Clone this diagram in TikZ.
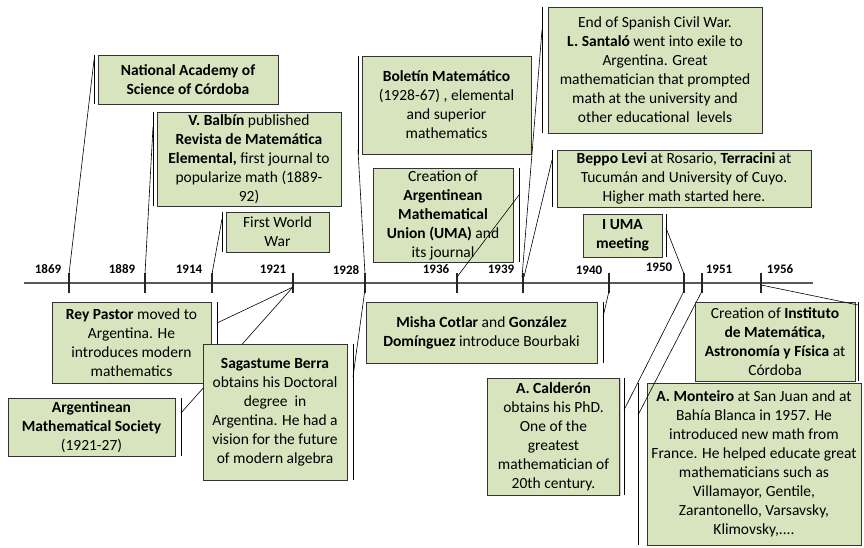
\documentclass[tikz,border=0pt]{standalone}
\usepackage{fontspec}
\setmainfont{Carlito}
\usetikzlibrary{shadows}
\definecolor{boxgreen}{HTML}{D7E4BD}
\definecolor{linegray}{HTML}{595959}
\begin{document}
\begin{tikzpicture}[x=1pt,y=-1pt,
  callout/.style={draw=black!80, fill=boxgreen, line width=0.8pt, align=center, inner sep=1pt,
    font=\fontsize{15.5}{19}\selectfont,
    drop shadow={shadow xshift=1.2pt, shadow yshift=-1.2pt, opacity=0.35, fill=black!60}},
  accentbar/.style={line width=0.8pt, draw=black},
  leader/.style={line width=0.6pt, draw=black},
  tickmark/.style={line width=1.8pt, draw=black!85},
  yearlbl/.style={font=\fontsize{13}{15}\selectfont\bfseries, inner sep=0pt},
]
\useasboundingbox (0,0) rectangle (864,548);

% timeline
\coordinate (tlS) at (24,283);
\coordinate (tlE) at (813,283);
\draw[line width=2.6pt, linegray] (tlS) -- (tlE);

\foreach \x/\n in {69/1869,145/1889,212/1914,293/1921,365/1928,457/1936,523/1939,609/1940,684/1950,702/1951,761/1956}{
  \coordinate (top\n) at (\x,273);
  \coordinate (bot\n) at (\x,293);
  \draw[tickmark] (top\n) -- (bot\n);
}

\node[yearlbl] (y1869) at (48,269) {1869};
\node[yearlbl] (y1889) at (122,269) {1889};
\node[yearlbl] (y1914) at (189,269) {1914};
\node[yearlbl] (y1921) at (273,269) {1921};
\node[yearlbl] (y1928) at (346,270) {1928};
\node[yearlbl] (y1936) at (436,269) {1936};
\node[yearlbl] (y1939) at (501,269) {1939};
\node[yearlbl] (y1940) at (589,270) {1940};
\node[yearlbl] (y1950) at (659,267) {1950};
\node[yearlbl] (y1951) at (719,269) {1951};
\node[yearlbl] (y1956) at (780,269) {1956};

% leader end points on the timeline
\coordinate (e1869) at (69,274);
\coordinate (e1889) at (145,274);
\coordinate (e1914) at (212,274);
\coordinate (e1928u) at (365,274);
\coordinate (e1936) at (457,277);
\coordinate (e1939a) at (522,277);
\coordinate (e1939b) at (524,277);
\coordinate (e1950u) at (684,274);
\coordinate (e1921d) at (293,287);
\coordinate (e1928d) at (365,289);
\coordinate (e1940d) at (609,291);
\coordinate (e1950d) at (684,291);
\coordinate (e1951d) at (702,291);
\coordinate (e1956d) at (761,285);

% ---------- upper callouts ----------
\node[callout, minimum width=180, minimum height=49] (nas) at (188,79.5)
  {\textbf{National Academy of}\\\textbf{Science of Córdoba}};
\draw[accentbar] (94,55) -- (94,104);
\coordinate (nasL) at (94,60);
\draw[leader] (nasL) -- (e1869);

\node[callout, minimum width=184, minimum height=94] (balbin) at (249,159)
  {\textbf{V. Balbín} published\\\textbf{Revista de Matemática}\\\textbf{Elemental,} first journal to\\popularize math (1889-\\92)};
\draw[accentbar] (153,112) -- (153,206);
\coordinate (balbinL) at (153,127);
\draw[leader] (balbinL) -- (e1889);

\node[callout, minimum width=103, minimum height=40] (ww1) at (277.5,232)
  {First World\\War};
\draw[accentbar] (222,212) -- (222,252);
\coordinate (ww1L) at (222,219);
\draw[leader] (ww1L) -- (e1914);

\node[callout, minimum width=169, minimum height=98] (boletin) at (446.5,105)
  {\textbf{Boletín Matemático}\\(1928-67) , elemental\\and superior\\mathematics};
\draw[accentbar] (358,56) -- (358,154);
\coordinate (boletinL) at (358,150);
\draw[leader] (boletinL) -- (e1928u);

\node[callout, minimum width=140, minimum height=94] (uma) at (443,215)
  {Creation of\\\textbf{Argentinean}\\\textbf{Mathematical}\\\textbf{Union (UMA)} and\\its journal};
\draw[accentbar] (519,168) -- (519,262);
\coordinate (umaL) at (519,195);
\draw[leader] (umaL) -- (e1936);

\node[callout, minimum width=214, minimum height=126] (santalo) at (655,70)
  {End of Spanish Civil War.\\\textbf{L. Santaló} went into exile to\\Argentina. Great\\mathematician that prompted\\math at the university and\\other educational~ levels};
\draw[accentbar] (542,7) -- (542,133);
\coordinate (santaloL) at (542,30);
\draw[leader] (santaloL) -- (e1939a);

\node[callout, minimum width=254, minimum height=57] (beppo) at (684,178.5)
  {\textbf{Beppo Levi} at Rosario, \textbf{Terracini} at\\Tucumán and University of Cuyo.\\Higher math started here.};
\draw[accentbar] (552,150) -- (552,207);
\coordinate (beppoL) at (552,160);
\draw[leader] (beppoL) -- (e1939b);

\node[callout, minimum width=79, minimum height=43] (iuma) at (622.5,235.5)
  {\textbf{I UMA}\\\textbf{meeting}};
\draw[accentbar] (666,214) -- (666,257);
\coordinate (iumaL) at (666,228);
\draw[leader] (iumaL) -- (e1950u);

% ---------- lower callouts ----------
\node[callout, minimum width=159, minimum height=81] (rey) at (131.5,342.5)
  {\textbf{Rey Pastor} moved to\\Argentina. He\\introduces modern\\mathematics};
\draw[accentbar] (217,302) -- (217,383);
\coordinate (reyL) at (217,323);
\draw[leader] (reyL) -- (e1921d);

\node[callout, minimum width=167, minimum height=58] (ams) at (91.5,427)
  {\textbf{Argentinean}\\\textbf{Mathematical Society}\\(1921-27)};
\draw[accentbar] (181,398) -- (181,456);
\coordinate (amsL) at (181,413);
\draw[leader] (amsL) -- (e1921d);

\node[callout, minimum width=144, minimum height=136] (saga) at (275,412)
  {\textbf{Sagastume Berra}\\obtains his Doctoral\\degree~ in\\Argentina. He had a\\vision for the future\\of modern algebra};
\draw[accentbar] (353,344) -- (353,480);
\coordinate (sagaL) at (353,377);
\draw[leader] (sagaL) -- (e1928d);

\node[callout, minimum width=231, minimum height=61] (misha) at (481.5,332.5)
  {\textbf{Misha Cotlar} and \textbf{González}\\\textbf{Domínguez} introduce Bourbaki};
\draw[accentbar] (603,302) -- (603,363);
\coordinate (mishaL) at (603,317);
\draw[leader] (mishaL) -- (e1940d);

\node[callout, minimum width=132, minimum height=117] (calderon) at (553.5,436.5)
  {\textbf{A. Calderón}\\obtains his PhD.\\One of the\\greatest\\mathematician of\\20th century.};
\draw[accentbar] (624,378) -- (624,495);
\coordinate (calderonL) at (624,410);
\draw[leader] (calderonL) -- (e1950d);

\node[callout, minimum width=214, minimum height=162] (monteiro) at (754,464)
  {\textbf{A. Monteiro} at San Juan and at\\Bahía Blanca in 1957. He\\introduced new math from\\France. He helped educate great\\mathematicians such as\\Villamayor, Gentile,\\Zarantonello, Varsavsky,\\Klimovsky,....};
\draw[accentbar] (638,383) -- (638,545);
\coordinate (monteiroL) at (638,415);
\draw[leader] (monteiroL) -- (e1951d);

\node[callout, minimum width=160, minimum height=79] (instituto) at (775,341.5)
  {Creation of \textbf{Instituto}\\\textbf{de Matemática,}\\\textbf{Astronomía y Física} at\\Córdoba};
\draw[accentbar] (858,302) -- (858,381);
\coordinate (institutoL) at (858,305);
\draw[leader] (institutoL) -- (e1956d);

\end{tikzpicture}
\end{document}
